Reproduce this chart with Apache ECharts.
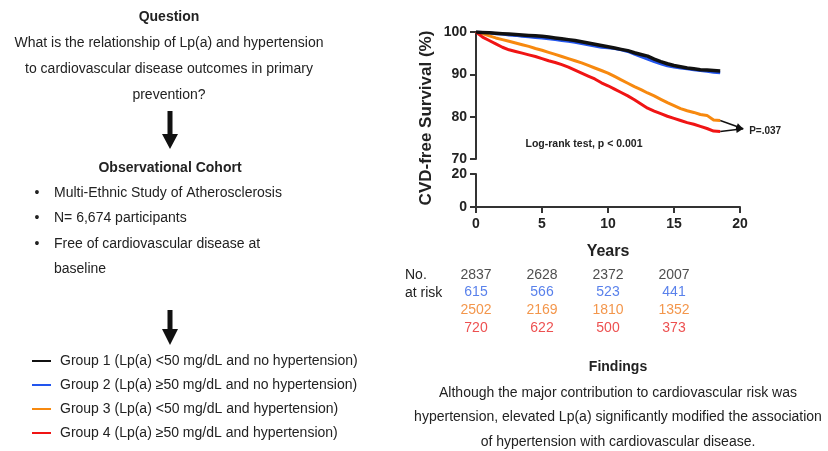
<!DOCTYPE html>
<html><head><meta charset="utf-8">
<script src="https://cdn.jsdelivr.net/npm/echarts/dist/echarts.min.js"></script>
<style>html,body{margin:0;padding:0;background:#fff}#c{width:828px;height:451px}</style>
</head><body><div id="c"></div>
<script>
// ---------- data ----------
const years = [0,0.5,1,1.5,2,2.5,3,3.5,4,4.5,5,5.5,6,6.5,7,7.5,8,8.5,9,9.5,10,10.5,11,11.5,12,12.5,13,13.5,14,14.5,15,15.5,16,16.5,17,17.5,18,18.5];
const group1 = [100,99.9,99.8,99.7,99.6,99.5,99.4,99.3,99.2,99.1,99.0,98.8,98.6,98.4,98.2,98.0,97.7,97.4,97.1,96.8,96.5,96.2,95.9,95.6,95.1,94.7,94.3,93.6,93.0,92.5,92.1,91.8,91.5,91.3,91.1,91.0,90.9,90.8];
const group2 = [100,99.9,99.8,99.6,99.5,99.3,99.2,99.0,98.9,98.7,98.6,98.4,98.2,98.0,97.8,97.6,97.3,97.0,96.7,96.4,96.3,96.1,95.8,95.4,94.8,94.2,93.6,93.0,92.5,92.0,91.7,91.5,91.3,91.1,90.9,90.7,90.5,90.4];
const group3 = [100,99.6,99.1,98.6,98.2,97.8,97.4,97.0,96.6,96.1,95.7,95.2,94.7,94.2,93.7,93.2,92.7,92.1,91.5,90.9,90.3,89.5,88.7,87.9,87.1,86.4,85.6,84.9,84.1,83.3,82.6,81.9,81.4,81.0,80.5,80.3,79.2,79.1];
const group4 = [100,98.8,98.0,97.2,96.4,95.8,95.4,95.0,94.6,94.2,93.7,93.2,92.8,92.3,91.7,91.0,90.3,89.6,88.9,88.0,87.3,86.5,85.7,84.9,84.0,83.0,82.0,81.3,80.7,80.1,79.6,79.1,78.6,78.2,77.7,77.2,76.6,76.5];
const groupNames = [
  'Group 1 (Lp(a) <50 mg/dL and no hypertension)',
  'Group 2 (Lp(a) \u226550 mg/dL and no hypertension)',
  'Group 3 (Lp(a) <50 mg/dL and hypertension)',
  'Group 4 (Lp(a) \u226550 mg/dL and hypertension)'
];
const riskYears = [0,5,10,15];
const risk1 = [2837,2628,2372,2007];
const risk2 = [615,566,523,441];
const risk3 = [2502,2169,1810,1352];
const risk4 = [720,622,500,373];

// ---------- styles ----------
const FF = '"Liberation Sans", Arial, Helvetica, sans-serif';
const colors = ['#111111','#2255ee','#f7890f','#f01414'];
const numColors = ['#222222','#2f62e6','#f07c1e','#e82424'];
const axisCol = '#333';

const chart = echarts.init(document.getElementById('c'), null, {renderer:'canvas'});

function pairs(arr){ return years.map((t,i)=>[t, arr[i]]); }
function curve(name, arr, color, z, w){
  return {name, type:'line', xAxisIndex:0, yAxisIndex:0, data:pairs(arr),
    showSymbol:false, symbol:'none', z, lineStyle:{color, width:w, join:'round'}, itemStyle:{color}, silent:true, animation:false};
}
const riskRows = ['r1','r2','r3','r4'];
function riskSeries(i, arr){
  return {name:'risk'+i, type:'scatter', xAxisIndex:2, yAxisIndex:2, symbolSize:1,
    itemStyle:{color:'rgba(0,0,0,0)'}, silent:true, animation:false,
    data: riskYears.map((t,k)=>[t, riskRows[i], arr[k]]),
    label:{show:true, position:'inside', formatter:p=>String(p.value[2]), color:numColors[i], fontSize:14, fontFamily:FF}};
}

const labelBold = {fontFamily:FF, fontWeight:'bold', fontSize:14, color:'#222'};

function txt(x,y,text,font,opts){
  return Object.assign({type:'text', x, y, silent:true, style:Object.assign({text, font, fill:'#222', textAlign:'center', textVerticalAlign:'middle'}, (opts&&opts.style)||{})}, (opts&&opts.el)||{});
}
function arrow(cx, top, shaftEnd, tip){
  return {type:'polygon', silent:true, shape:{points:[[cx-2.5,top],[cx+2.5,top],[cx+2.5,shaftEnd],[cx+8,shaftEnd],[cx,tip],[cx-8,shaftEnd],[cx-2.5,shaftEnd]]}, style:{fill:'#111'}};
}

const F14 = '14px '+FF, B14 = 'bold 14px '+FF;
const graphics = [
  txt(169,17,'Question',B14),
  txt(169,43,'What is the relationship of Lp(a) and hypertension',F14),
  txt(169,69,'to cardiovascular disease outcomes in primary',F14),
  txt(169,95,'prevention?',F14),
  arrow(170,111,134,149),
  txt(170,168,'Observational Cohort',B14),
  txt(37,193,'\u2022',F14),
  txt(54,193,'Multi-Ethnic Study of Atherosclerosis',F14,{style:{textAlign:'left'}}),
  txt(37,218,'\u2022',F14),
  txt(54,218,'N= 6,674 participants',F14,{style:{textAlign:'left'}}),
  txt(37,244,'\u2022',F14),
  txt(54,244,'Free of cardiovascular disease at',F14,{style:{textAlign:'left'}}),
  txt(54,269,'baseline',F14,{style:{textAlign:'left'}}),
  arrow(170,310,329,345),
  txt(426,118,'CVD-free Survival (%)','bold 17px '+FF,{el:{rotation:Math.PI/2}}),
  txt(584,144,'Log-rank test, p < 0.001','bold 10.5px '+FF),
  txt(405,275,'No.',F14,{style:{textAlign:'left'}}),
  txt(405,293,'at risk',F14,{style:{textAlign:'left'}}),
  txt(618,367,'Findings',B14),
  txt(618,393,'Although the major contribution to cardiovascular risk was',F14),
  txt(618,417,'hypertension, elevated Lp(a) significantly modified the association',F14),
  txt(618,442,'of hypertension with cardiovascular disease.',F14)
];

const option = {
  backgroundColor:'#fff',
  animation:false,
  legend:{orient:'vertical', left:32, top:353, padding:0, itemWidth:19, itemHeight:2, icon:'rect', itemGap:8,
    selectedMode:false, data:groupNames,
    textStyle:{fontFamily:FF, fontSize:14, color:'#222', lineHeight:16, padding:[0,0,0,4]}},
  grid:[
    {left:476, top:32, width:264, height:127},
    {left:476, top:174, width:264, height:33},
    {left:476, top:266, width:264, height:71}
  ],
  xAxis:[
    {gridIndex:0, type:'value', min:0, max:20, show:false},
    {gridIndex:1, type:'value', min:0, max:20, interval:5,
      name:'Years', nameLocation:'middle', nameGap:37,
      nameTextStyle:{fontFamily:FF, fontWeight:'bold', fontSize:16, color:'#222'},
      axisLine:{lineStyle:{color:axisCol, width:2}}, axisTick:{length:6, lineStyle:{color:axisCol, width:2}},
      axisLabel:Object.assign({margin:10}, labelBold), splitLine:{show:false}},
    {gridIndex:2, type:'value', min:0, max:20, show:false}
  ],
  yAxis:[
    {gridIndex:0, type:'value', min:70, max:100, interval:10,
      axisLine:{show:true, lineStyle:{color:axisCol, width:2}}, axisTick:{show:true, length:6, lineStyle:{color:axisCol, width:2}},
      axisLabel:Object.assign({margin:9}, labelBold), splitLine:{show:false}},
    {gridIndex:1, type:'value', min:0, max:20, interval:20,
      axisLine:{show:true, lineStyle:{color:axisCol, width:2}}, axisTick:{show:true, length:6, lineStyle:{color:axisCol, width:2}},
      axisLabel:Object.assign({margin:9}, labelBold), splitLine:{show:false}},
    {gridIndex:2, type:'category', data:riskRows, inverse:true, show:false}
  ],
  series:[
    curve(groupNames[1], group2, colors[1], 2, 3),
    curve(groupNames[0], group1, colors[0], 3, 3.5),
    curve(groupNames[2], group3, colors[2], 2, 3),
    curve(groupNames[3], group4, colors[3], 2, 3),
    riskSeries(0, risk1), riskSeries(1, risk2), riskSeries(2, risk3), riskSeries(3, risk4)
  ],
  graphic: graphics
};
chart.setOption(option);

// P-value annotation arrows, anchored to curve ends via the chart's scales
const endT = years[years.length-1];
const pOrange = chart.convertToPixel({gridIndex:0}, [endT, group3[group3.length-1]]);
const pRed = chart.convertToPixel({gridIndex:0}, [endT, group4[group4.length-1]]);
const tip = [pRed[0]+23, (pOrange[1]+2*pRed[1])/3 + 1];
function arrowHead(from, to){
  const a = Math.atan2(to[1]-from[1], to[0]-from[0]), L = 7, W = 3.5;
  return [[to[0],to[1]],[to[0]-L*Math.cos(a)+W*Math.sin(a), to[1]-L*Math.sin(a)-W*Math.cos(a)],[to[0]-L*Math.cos(a)-W*Math.sin(a), to[1]-L*Math.sin(a)+W*Math.cos(a)]];
}
graphics.push(
  {type:'line', silent:true, shape:{x1:pOrange[0], y1:pOrange[1], x2:tip[0], y2:tip[1]}, style:{stroke:'#111', lineWidth:1.5}},
  {type:'line', silent:true, shape:{x1:pRed[0], y1:pRed[1], x2:tip[0], y2:tip[1]}, style:{stroke:'#111', lineWidth:1.5}},
  {type:'polygon', silent:true, shape:{points:arrowHead(pRed, tip)}, style:{fill:'#111'}},
  {type:'polygon', silent:true, shape:{points:arrowHead(pOrange, tip)}, style:{fill:'#111'}},
  txt(tip[0]+6, tip[1]+2, 'P=.037', 'bold 10px '+FF, {style:{textAlign:'left'}})
);
chart.setOption({graphic: graphics}, {replaceMerge:['graphic']});
</script>
</body></html>
